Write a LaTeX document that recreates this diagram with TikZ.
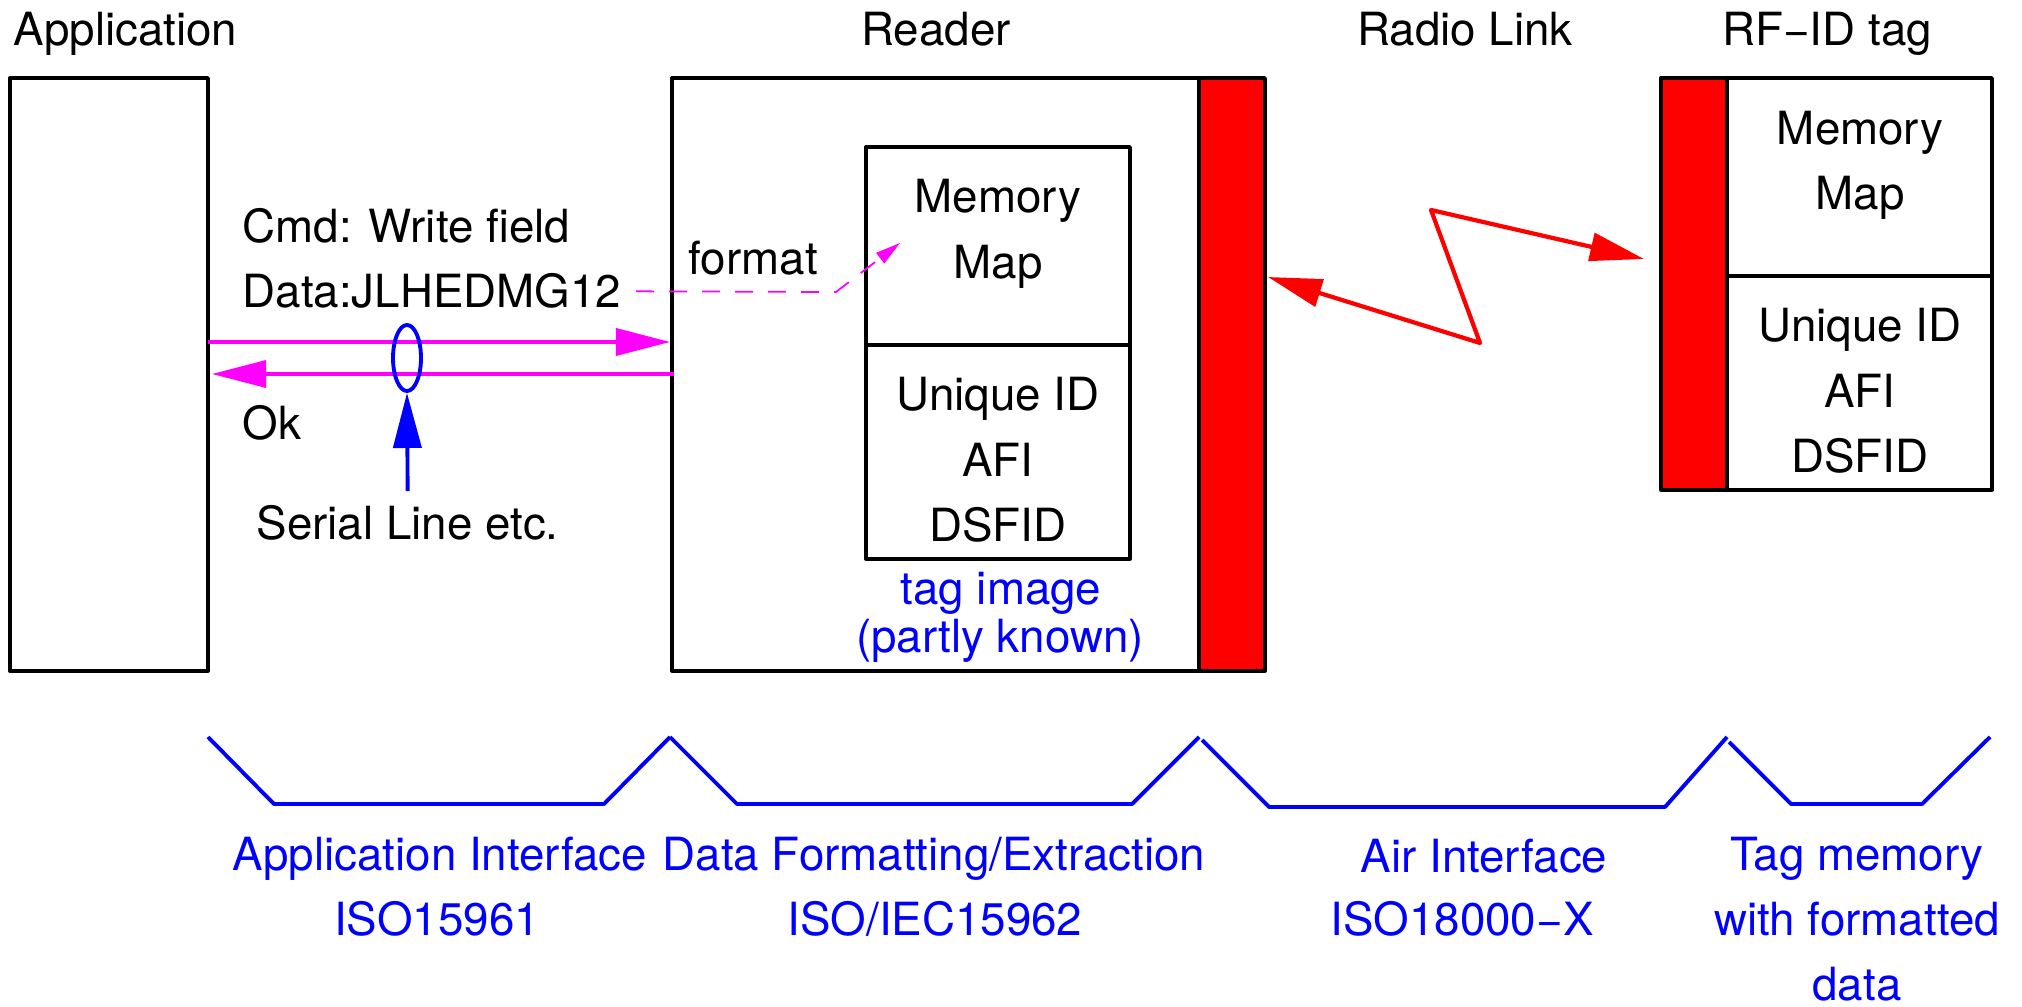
\documentclass[tikz,border=0pt]{standalone}
\usepackage{fontspec}
\setmainfont{TeX Gyre Heros}
\usetikzlibrary{arrows.meta,shapes.geometric}

\definecolor{fuchsia}{RGB}{255,0,255}
\definecolor{pureblue}{RGB}{0,0,255}
\definecolor{purered}{RGB}{255,0,0}

\tikzset{
  txt/.style={font=\fontsize{13}{15.6}\selectfont, inner sep=0pt, anchor=base},
  blab/.style={txt, pureblue},
  box/.style={draw, line width=0.95pt, line join=round},
  msg/.style={fuchsia, line width=1pt, -{Triangle[length=0.54cm, width=0.27cm]}},
  fmt/.style={fuchsia, line width=0.5pt, dash pattern=on 0.18cm off 0.15cm, -{Triangle[length=0.25cm, width=0.13cm]}},
  radio/.style={purered, line width=1.2pt, line join=round, {Triangle[length=0.54cm, width=0.28cm]}-{Triangle[length=0.54cm, width=0.28cm]}},
  serline/.style={pureblue, line width=1.1pt, -{Triangle[length=0.55cm, width=0.28cm]}},
  bracket/.style={pureblue, line width=1.1pt, line join=round},
}

\begin{document}
\begin{tikzpicture}[x=0.01cm, y=-0.01cm]
    \useasboundingbox (0,0) rectangle (2022,1007);

    % titles
    \node[txt, anchor=base west] (tApp) at (13,46) {Application};
    \node[txt] (tReader) at (936,46) {Reader};
    \node[txt] (tRadio) at (1465,46) {Radio Link};
    \node[txt] (tTag) at (1827,46) {RF−ID tag};

    % application
    \draw[box] (10,78) rectangle (208,671);

    % reader with its antenna
    \draw[box] (672,78) rectangle (1199,671);
    \draw[box, fill=purered] (1199,78) rectangle (1265,671);
    \draw[box] (866,147) rectangle (1130,559);
    \draw[box] (866,345) -- (1130,345);
    \node[txt] (rMem) at (998,213) {Memory};
    \node[txt] (rMap) at (998,279) {Map};
    \node[txt] (rUid) at (998,411) {Unique ID};
    \node[txt] (rAfi) at (998,477) {AFI};
    \node[txt] (rDsf) at (998,542) {DSFID};
    \node[blab] (rImg) at (1001,605) {tag image};
    \node[blab] (rKnown) at (1000,653) {(partly known)};

    % tag
    \draw[box, fill=purered] (1661,78) rectangle (1727,490);
    \draw[box] (1727,78) rectangle (1992,490);
    \draw[box] (1727,276) -- (1992,276);
    \node[txt] (tMem) at (1860,145) {Memory};
    \node[txt] (tMap) at (1860,210) {Map};
    \node[txt] (tUid) at (1860,342) {Unique ID};
    \node[txt] (tAfi) at (1860,408) {AFI};
    \node[txt] (tDsf) at (1860,473) {DSFID};

    % serial messages
    \node[txt, anchor=base west] (cmd) at (242,243) {Cmd: Write field};
    \node[txt, anchor=base west] (data) at (242,308) {Data:JLHEDMG12};
    \node[txt, anchor=base west] (ok) at (242,440) {Ok};
    \node[txt, anchor=base west] (format) at (688,275) {format};
    \node[txt, anchor=base west] (serial) at (256,540) {Serial Line etc.};

    \coordinate (appOut) at (208,342);
    \coordinate (rdrIn) at (670,342);
    \coordinate (rdrOut) at (674,374);
    \coordinate (appIn) at (212,374);
    \draw[msg] (appOut) -- (rdrIn);
    \draw[msg] (rdrOut) -- (appIn);

    \node[draw=pureblue, line width=1.1pt, ellipse, inner sep=0pt, minimum width=0.28cm, minimum height=0.66cm] (bundle) at (407,358) {};
    \draw[serline] ([yshift=4pt]serial.north) -- (bundle.south);

    \coordinate (fmtBend) at (836,292);
    \coordinate (fmtTip) at (900,243);
    \draw[fmt] ([xshift=4pt]data.east) -- (fmtBend) -- (fmtTip);

    % radio link
    \coordinate (rdrAnt) at (1268,277);
    \coordinate (zigA) at (1480,343);
    \coordinate (zigB) at (1431,210);
    \coordinate (tagAnt) at (1644,259);
    \draw[radio] (rdrAnt) -- (zigA) -- (zigB) -- (tagAnt);

    % interfaces
    \draw[bracket] (208,737) -- (274,804) -- (604,804) -- (670,737);
    \draw[bracket] (670,737) -- (737,804) -- (1132,804) -- (1199,737);
    \draw[bracket] (1202,740) -- (1269,807) -- (1665,807) -- (1727,737);
    \draw[bracket] (1729,742) -- (1791,804) -- (1922,804) -- (1990,737);

    \node[blab] (iApp) at (440,870) {Application Interface};
    \node[blab] (iAppStd) at (437,935) {ISO15961};
    \node[blab] (iFmt) at (934,870) {Data Formatting/Extraction};
    \node[blab] (iFmtStd) at (935,935) {ISO/IEC15962};
    \node[blab] (iAir) at (1484,872) {Air Interface};
    \node[blab] (iAirStd) at (1462,935) {ISO18000−X};
    \node[blab] (iTag) at (1857,870) {Tag memory};
    \node[blab] (iTag2) at (1857,935) {with formatted};
    \node[blab] (iTag3) at (1857,1000) {data};
\end{tikzpicture}
\end{document}
